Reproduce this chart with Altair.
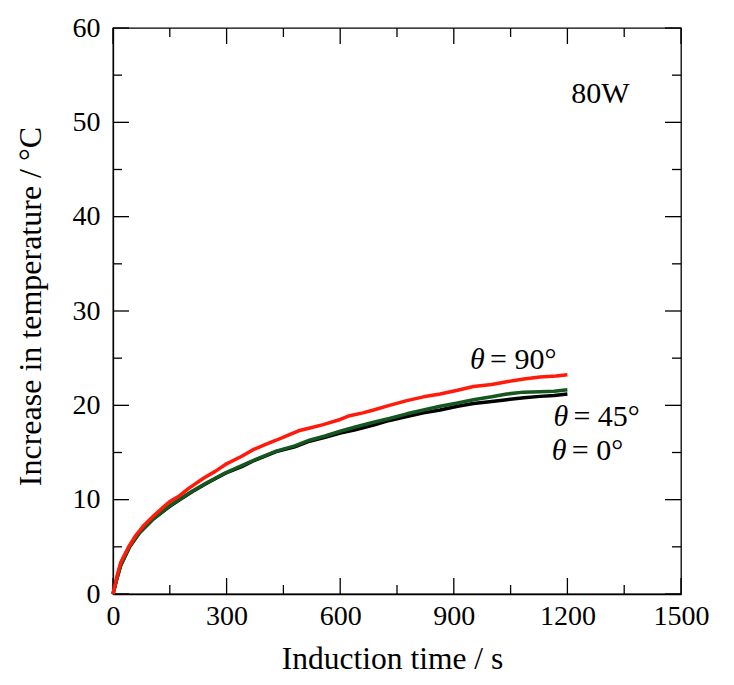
import altair as alt
import pandas as pd

# ---- data ----
T_RED = [0, 10, 20, 40, 60, 80, 105, 130, 150, 175, 200, 240, 270, 300, 340, 370, 400, 431, 460, 490,
         520, 555, 600, 625, 660, 688, 730, 776, 820, 864, 910, 952, 1000, 1040, 1085, 1128, 1170, 1200]
Y_RED = [0, 1.8, 3.3, 4.9, 6.2, 7.2, 8.2, 9.1, 9.8, 10.4, 11.2, 12.3, 13.0, 13.8, 14.6, 15.3, 15.8, 16.3, 16.8, 17.3,
         17.6, 17.95, 18.5, 18.9, 19.2, 19.5, 20.0, 20.5, 20.9, 21.2, 21.6, 22.0, 22.2, 22.5, 22.8, 23.0, 23.1, 23.25]

T_BLACK = [0, 10, 20, 44, 70, 105, 150, 180, 211, 250, 297, 340, 370, 431, 480, 519, 560, 600, 640, 688,
           730, 776, 820, 864, 910, 952, 1000, 1040, 1085, 1128, 1165, 1200]
Y_BLACK = [0, 1.6, 3.0, 5.0, 6.5, 7.9, 9.3, 10.1, 10.9, 11.8, 12.8, 13.5, 14.1, 15.1, 15.6, 16.2, 16.6, 17.05, 17.4, 17.9,
           18.4, 18.8, 19.2, 19.5, 19.9, 20.2, 20.4, 20.6, 20.8, 20.95, 21.05, 21.2]

T_GREEN = [0, 10, 20, 44, 70, 105, 150, 180, 211, 250, 297, 340, 370, 431, 480, 519, 560, 600, 640, 688,
           730, 776, 820, 864, 910, 952, 1000, 1040, 1084, 1128, 1165, 1200]
Y_GREEN = [0, 1.6, 3.0, 5.05, 6.5, 7.9, 9.35, 10.15, 10.95, 11.85, 12.85, 13.6, 14.15, 15.15, 15.7, 16.3, 16.75, 17.25, 17.7, 18.2,
           18.6, 19.1, 19.5, 19.9, 20.25, 20.6, 20.9, 21.2, 21.4, 21.45, 21.5, 21.65]

X_MAJOR = [0, 300, 600, 900, 1200, 1500]
X_MINOR = [150, 450, 750, 1050, 1350]
Y_MAJOR = [0, 10, 20, 30, 40, 50, 60]
Y_MINOR = [5, 15, 25, 35, 45, 55]

LABEL_T = [943, 1163, 1159]
LABEL_Y = [23.8, 17.77, 14.24]
LABEL_TXT = ["= 90°", "= 45°", "= 0°"]

POWER_T = [1287]
POWER_Y = [52.1]
POWER_TXT = ["80W"]

# ---- styling ----
W, H = 568, 566
FONT = "Liberation Serif"
MAJ, MIN = 16, 9
RED, GREEN, BLACK = "#ff1a0a", "#14571f", "#000000"

xs = alt.Scale(domain=[0, 1500], nice=False, zero=False)
ys = alt.Scale(domain=[0, 60], nice=False, zero=False)

x_axis = alt.Axis(values=X_MAJOR, format="d", title="Induction time / s", labelFont=FONT, labelFontSize=28,
                  titleFont=FONT, titleFontSize=31.5, titleFontWeight="normal", labelColor="black",
                  titleColor="black", ticks=False, tickSize=0, labelPadding=8, grid=False,
                  domainColor="black", domainWidth=1.3, titleX=279, titleY=74,
                  titleBaseline="alphabetic", labelFlush=False, labelOverlap=False)
y_axis = alt.Axis(values=Y_MAJOR, format="d", title="Increase in temperature / °C", labelFont=FONT,
                  labelFontSize=28, titleFont=FONT, titleFontSize=32, titleFontWeight="normal",
                  labelColor="black", titleColor="black", ticks=False, tickSize=0, labelPadding=13,
                  grid=False, domainColor="black", domainWidth=1.3, titleX=-73, titleY=278,
                  titleAngle=270, titleAlign="center", titleBaseline="alphabetic",
                  labelFlush=False, labelOverlap=False)


def X(field="t"):
    return alt.X(f"{field}:Q", scale=xs, axis=x_axis)


def Y(field="y"):
    return alt.Y(f"{field}:Q", scale=ys, axis=y_axis)


def line(ts, vs, color):
    df = pd.DataFrame({"t": ts, "y": vs})
    return alt.Chart(df).mark_line(color=color, strokeWidth=3.5, strokeJoin="round").encode(
        x=X(), y=Y(), order="t:Q")


lines = [line(T_BLACK, Y_BLACK, BLACK), line(T_GREEN, Y_GREEN, GREEN), line(T_RED, Y_RED, RED)]

xmaj = pd.DataFrame({"t": X_MAJOR})
xmin = pd.DataFrame({"t": X_MINOR})
ymaj = pd.DataFrame({"y": Y_MAJOR})
ymin = pd.DataFrame({"y": Y_MINOR})

tick_style = dict(color="black", strokeWidth=1.3)
ticks = []
for df, L in ((xmaj, MAJ), (xmin, MIN)):
    ticks.append(alt.Chart(df).mark_rule(**tick_style).encode(
        x=X(), y=alt.value(H), y2=alt.value(H - L)))
    ticks.append(alt.Chart(df).mark_rule(**tick_style).encode(
        x=X(), y=alt.value(0), y2=alt.value(L)))
for df, L in ((ymaj, MAJ), (ymin, MIN)):
    ticks.append(alt.Chart(df).mark_rule(**tick_style).encode(
        y=Y(), x=alt.value(0), x2=alt.value(L)))
    ticks.append(alt.Chart(df).mark_rule(**tick_style).encode(
        y=Y(), x=alt.value(W), x2=alt.value(W - L)))

lab = pd.DataFrame({"t": LABEL_T, "y": LABEL_Y, "txt": LABEL_TXT})
theta = alt.Chart(lab).mark_text(font=FONT, fontSize=30, fontStyle="italic", align="left",
                                  baseline="alphabetic", color="black").encode(
    x=X(), y=Y(), text=alt.value("θ"))
rest = alt.Chart(lab).mark_text(font=FONT, fontSize=30, align="left", baseline="alphabetic",
                                 color="black", dx=20).encode(x=X(), y=Y(), text="txt:N")

pw = pd.DataFrame({"t": POWER_T, "y": POWER_Y, "txt": POWER_TXT})
power = alt.Chart(pw).mark_text(font=FONT, fontSize=30, align="center", baseline="alphabetic",
                                 color="black").encode(x=X(), y=Y(), text="txt:N")

chart = alt.layer(*ticks, *lines, theta, rest, power).properties(
    width=W, height=H,
    padding={"left": 105, "top": 20, "right": 40, "bottom": 80},
    autosize=alt.AutoSizeParams(type="none"),
    background="white",
).configure_view(stroke="black", strokeWidth=1.3)

chart.save("out.html", embed_options={"renderer": "svg", "actions": False})
